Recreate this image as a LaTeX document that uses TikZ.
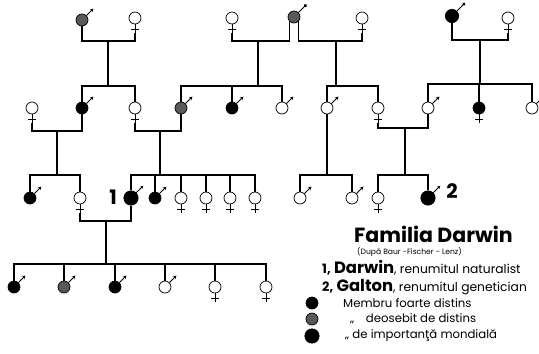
\documentclass[tikz,border=0pt]{standalone}
\usepackage{fontspec}
\setmainfont{Poppins}
\usetikzlibrary{arrows.meta, calc}

\begin{document}
\begin{tikzpicture}[
  x=0.3mm, y=-0.3mm,
  person/.style={circle, draw, line width=0.6pt, minimum size=3.6mm, inner sep=0pt},
  open/.style={person, fill=white},
  solid/.style={person, fill=black},
  mottled/.style={person, fill=black!65},
  world/.style={person, fill=black, minimum size=4.3mm},
  male/.style={append after command={(\tikzlastnode.45) edge[line width=0.8pt, -{Stealth[length=3pt, width=3pt]}] ++(7,-7)}},
  sire/.style={append after command={(\tikzlastnode.45) edge[line width=0.8pt, -{Circle[length=2.6pt]}] ++(8,-8)}},
  female/.style={append after command={(\tikzlastnode.south) edge[line width=0.8pt] ++(0,9)
      ($(\tikzlastnode.south)+(-4,5)$) edge[line width=0.8pt] ++(8,0)}},
  link/.style={line width=1pt},
  tag/.style={font=\fontsize{17}{17}\selectfont\bfseries, inner sep=0pt},
  txt/.style={anchor=west, inner sep=0pt, font=\fontsize{10}{11}\selectfont},
]
  \useasboundingbox (0,0) rectangle (539,353);

  % generation 1
  \node[mottled, male] (jw) at (82,20) {};
  \node[open, female] (sw) at (135,18) {};
  \node[open, female] (fa) at (232,18) {};
  \node[mottled, sire] (er) at (294,17) {};
  \node[open, female] (ep) at (362,18) {};
  \node[solid, sire, minimum size=4mm] (gg) at (452,16) {};
  \node[open, female] (gw) at (508,18) {};

  % generation 2
  \node[open, female] (fw) at (32,108) {};
  \node[solid, male] (jw2) at (82,108) {};
  \node[open, female] (su) at (135,108) {};
  \node[mottled, male] (rd) at (181,108) {};
  \node[solid, male] (ed) at (232,108) {};
  \node[open, male] (fd) at (282,108) {};
  \node[open, male] (sf) at (327,108) {};
  \node[open, female] (vi) at (378,108) {};
  \node[open, male] (st) at (428,108) {};
  \node[solid, female] (gf) at (479,108) {};
  \node[open, male] (gm) at (532,108) {};

  % generation 3
  \node[solid, male] (jw3) at (30,198) {};
  \node[open, female] (em) at (80,198) {};
  \node[world, male] (cd) at (131,198) {};
  \node[solid, male] (ea) at (155,198) {};
  \foreach \n/\x in {f1/181, f2/206, f3/230, f4/255}
    \node[open, female] (\n) at (\x,198) {};
  \node[open, male] (sm1) at (300,198) {};
  \node[open, male] (sm2) at (352,198) {};
  \node[open, female] (gs) at (378,198) {};
  \node[world, male] (fg) at (428,198) {};
  \node[tag] (n1) at (113,197) {1};
  \node[tag] (n2) at (452,191) {2};

  % generation 4
  \foreach \n/\x/\s in {c1/14/solid, c2/64/mottled, c3/115/solid, c4/165/open}
    \node[\s, male] (\n) at (\x,287) {};
  \node[open, female] (c5) at (215,287) {};
  \node[open, female] (c6) at (266,287) {};

  % marriages and sibling lines
  \coordinate (m1) at (108,41);  \coordinate (s1) at (108,86);
  \coordinate (m2) at (258,41);  \coordinate (s2) at (258,86);
  \coordinate (m3) at (336,41);  \coordinate (s3) at (336,86);
  \coordinate (m4) at (480,40);  \coordinate (s4) at (480,84);
  \coordinate (m5) at (57,131);  \coordinate (s5) at (57,175);
  \coordinate (m6) at (160,131); \coordinate (s6) at (160,175);
  \coordinate (s7) at (327,175);
  \coordinate (m7) at (405,128); \coordinate (s8) at (405,175);
  \coordinate (m8) at (106,221); \coordinate (s9) at (106,264);

  \draw[link] (jw.south) |- (m1) -| ($(sw.south)+(0,9)$);
  \draw[link] ($(fa.south)+(0,9)$) |- (m2) -| (er.south west);
  \draw[link] (er.south east) |- (m3) -| ($(ep.south)+(0,9)$);
  \draw[link] (gg.south) |- (m4) -| ($(gw.south)+(0,9)$);
  \foreach \m/\s in {m1/s1, m2/s2, m3/s3, m4/s4, m5/s5, m6/s6, m7/s8, m8/s9}
    \draw[link] (\m) -- (\s);

  \draw[link] (jw2.north) |- (s1) -| (su.north);
  \draw[link] (rd.north) |- (s2) -| (fd.north);
  \draw[link] (ed.north) -- (ed.north |- s2);
  \draw[link] (sf.north) |- (s3) -| (vi.north);
  \draw[link] (st.north) |- (s4) -| (gm.north);
  \draw[link] (gf.north) -- (gf.north |- s4);

  \draw[link] ($(fw.south)+(0,9)$) |- (m5) -| (jw2.south);
  \draw[link] ($(su.south)+(0,9)$) |- (m6) -| (rd.south);
  \draw[link] ($(vi.south)+(0,9)$) |- (m7) -| (st.south);
  \draw[link] (sf.south) -- (s7);

  \draw[link] (jw3.north) |- (s5) -| (em.north);
  \draw[link] (cd.north) |- (s6) -| (f4.north);
  \foreach \n in {ea, f1, f2, f3}
    \draw[link] (\n.north) -- (\n.north |- s6);
  \draw[link] (sm1.north) |- (s7) -| (sm2.north);
  \draw[link] (gs.north) |- (s8) -| (fg.north);

  \draw[link] ($(em.south)+(0,9)$) |- (m8) -| (cd.south);
  \draw[link] (c1.north) |- (s9) -| (c6.north);
  \foreach \n in {c2, c3, c4, c5}
    \draw[link] (\n.north) -- (\n.north |- s9);

  % key
  \node[anchor=west, inner sep=0pt, font=\fontsize{17.5}{17.5}\selectfont\bfseries] (title) at (354,234) {Familia Darwin};
  \node[txt, font=\fontsize{6.5}{7}\selectfont] (src) at (357,252) {(După Baur -Fischer - Lenz)};
  \node[txt, font=\fontsize{10.5}{11}\selectfont] (k1) at (322,268) {{\fontsize{11}{11}\selectfont\bfseries 1,} {\fontsize{14}{14}\selectfont\bfseries Darwin}, renumitul naturalist};
  \node[txt, font=\fontsize{10.5}{11}\selectfont] (k2) at (322,287) {{\fontsize{11}{11}\selectfont\bfseries 2,} {\fontsize{14}{14}\selectfont\bfseries Galton}, renumitul genetician};
  \node[solid] (d1) at (312,303) {};
  \node[mottled] (d2) at (312,319) {};
  \node[world] (d3) at (312,336) {};
  \node[txt] (e1) at (343,303) {Membru foarte distins};
  \node[txt] (e2) at (350,319) {„\hspace{3.5mm}deosebit de distins};
  \node[txt] (e3) at (345,336) {„ de importanţă mondială};
\end{tikzpicture}
\end{document}
